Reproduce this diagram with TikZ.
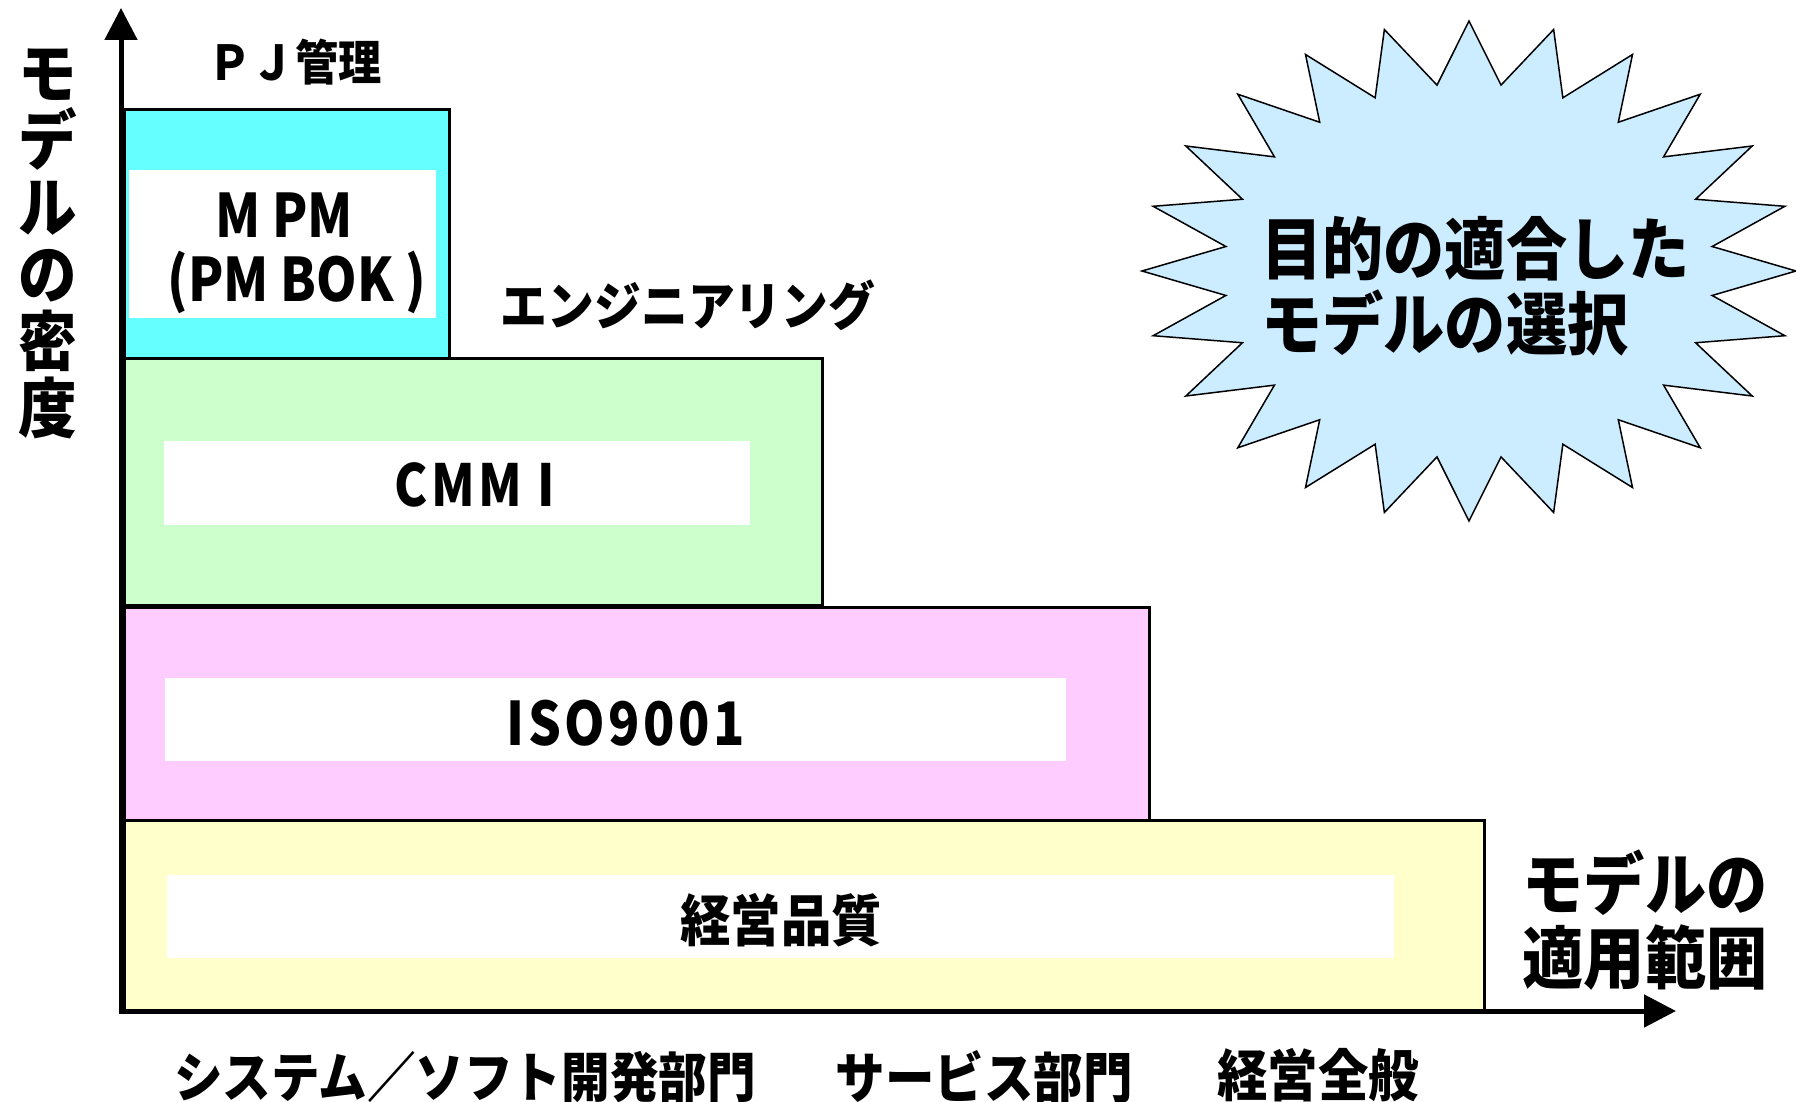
\documentclass[tikz,border=0pt]{standalone}
\usepackage{fontspec}
\newfontfamily\jp{Noto Sans CJK JP}[FakeStretch=0.9]
\newfontfamily\lat{Noto Sans CJK JP}[FakeStretch=0.86]
\newfontfamily\latsp{Noto Sans CJK JP}[FakeStretch=0.86,LetterSpace=6]
\usetikzlibrary{arrows.meta}
\definecolor{cyanbox}{HTML}{66FFFF}
\definecolor{greenbox}{HTML}{CCFFCC}
\definecolor{pinkbox}{HTML}{FFCCFF}
\definecolor{yellowbox}{HTML}{FFFFCC}
\definecolor{starblue}{HTML}{CCECFF}
\begin{document}
\begin{tikzpicture}[x=1pt,y=-1pt,
  levelbox/.style={draw=black,line width=3pt,inner sep=0pt,minimum width=#1},
  innerbox/.style={fill=white,draw=none,inner sep=0pt},
  jplabel/.style={inner sep=0pt,font=\jp\bfseries\fontsize{#1}{#1}\selectfont},
  latlabel/.style={inner sep=0pt,font=\lat\bfseries\fontsize{#1}{#1}\selectfont},
  axis/.style={line width=5pt,{Triangle[length=32pt,width=32pt]}-{Triangle[length=32pt,width=32pt]}}
]
\useasboundingbox (0,0) rectangle (1796,1102);

% level boxes
\node[levelbox=325pt,fill=cyanbox,minimum height=248pt] (cyan) at (286.5,234) {};
\node[innerbox,minimum width=307pt,minimum height=148pt] (cyanin) at (282.5,244) {};
\node[levelbox=698pt,fill=greenbox,minimum height=247pt] (green) at (473,481.5) {};
\node[innerbox,minimum width=586pt,minimum height=84pt] (greenin) at (457,483) {};
\node[levelbox=1025pt,fill=pinkbox,minimum height=213pt] (pink) at (636.5,713.5) {};
\node[innerbox,minimum width=901pt,minimum height=83pt] (pinkin) at (615.5,719.5) {};
\node[levelbox=1360pt,fill=yellowbox,minimum height=190pt] (yellow) at (804,915) {};
\node[innerbox,minimum width=1227pt,minimum height=83pt] (yellowin) at (780.5,916.5) {};

% box texts
\node[latlabel=60pt] (mpm) at (284,215) {M PM};
\node[latlabel=60pt] (pmbok) at (297,282) {(PM BOK )};
\node[latlabel=58pt,font=\latsp\bfseries\fontsize{58pt}{58pt}\selectfont] (cmmi) at (475,485) {CMM I};
\node[latlabel=60pt,font=\latsp\bfseries\fontsize{60pt}{60pt}\selectfont] (iso) at (626,723) {ISO9001};
\node[jplabel=56pt] (keiei) at (781,920) {経営品質};

% labels above boxes
\node[jplabel=48pt] (pj) at (295,62) {ＰＪ管理};
\node[jplabel=52pt] (eng) at (688,305) {エンジニアリング};

% axes
\coordinate (O) at (121,1011);
\coordinate (ytip) at (121,8);
\coordinate (xtip) at (1676,1011);
\draw[axis] (ytip) -- (O) -- (xtip);

% axis labels
\node[jplabel=64pt,align=center,font=\jp\bfseries\fontsize{65pt}{67pt}\selectfont] (ylab) at (48,244) {モ\\デ\\ル\\の\\密\\度};
\node[jplabel=68pt,align=center,font=\jp\bfseries\fontsize{68pt}{74pt}\selectfont] (xlab) at (1645,920) {モデルの\\適用範囲};

% bottom labels
\node[jplabel=54pt] (sys) at (465,1077) {システム／ソフト開発部門};
\node[jplabel=55pt] (svc) at (984,1077) {サービス部門};
\node[jplabel=56pt] (all) at (1318,1075) {経営全般};

% starburst
\draw[fill=starblue,line width=1.5pt] plot[samples at={0,...,47},variable=\k]
  ({1469+327*ifthenelse(mod(\k,2)==0,1,0.75)*cos(90+7.5*\k)},
   {271-250*ifthenelse(mod(\k,2)==0,1,0.75)*sin(90+7.5*\k)}) -- cycle;
\node[jplabel=68pt,align=left,anchor=west,font=\jp\bfseries\fontsize{68pt}{75pt}\selectfont] (startext) at (1261,286) {目的の適合した\\モデルの選択};
\end{tikzpicture}
\end{document}
